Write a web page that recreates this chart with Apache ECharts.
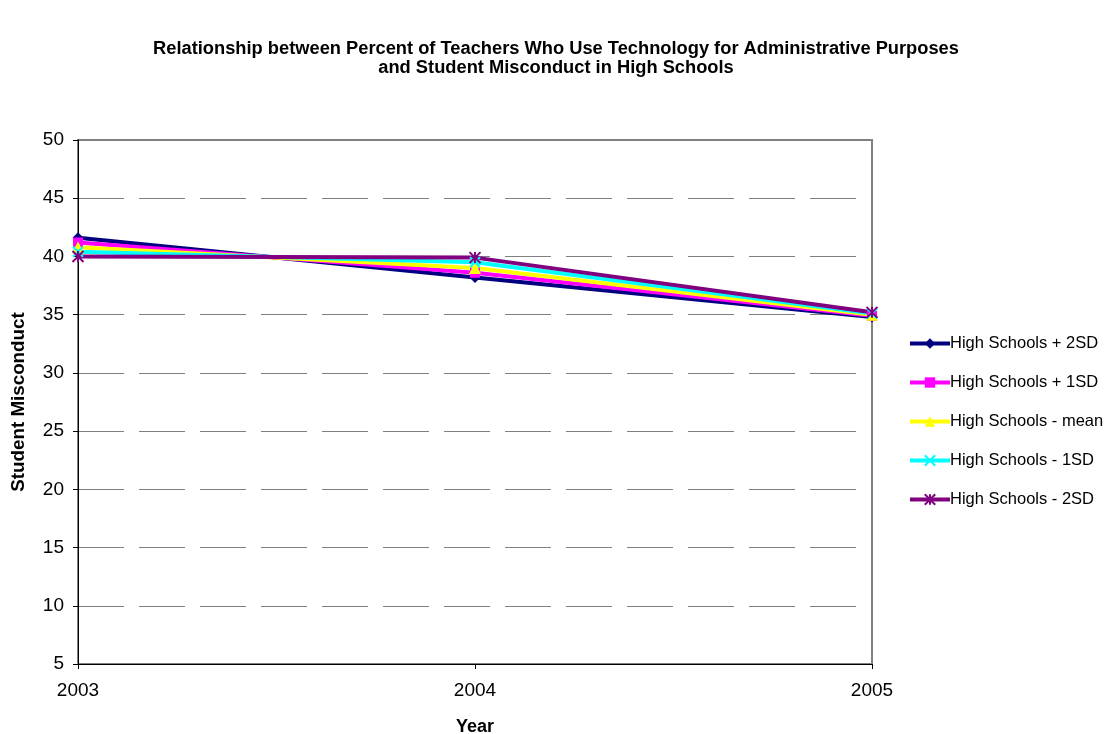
<!DOCTYPE html>
<html>
<head>
<meta charset="utf-8">
<script src="https://cdn.jsdelivr.net/npm/echarts@6/dist/echarts.min.js"></script>
<style>
  html, body { margin: 0; padding: 0; background: #fff; }
  #chart { width: 1112px; height: 734px; }
</style>
</head>
<body>
<div id="chart"></div>
<script>
const years = ['2003', '2004', '2005']
const seriesNames = [
  'High Schools + 2SD',
  'High Schools + 1SD',
  'High Schools - mean',
  'High Schools - 1SD',
  'High Schools - 2SD'
]
const plus2SD = [41.6, 38.2, 34.8]
const plus1SD = [41.2, 38.6, 34.9]
const meanVals = [40.8, 39.0, 35.0]
const minus1SD = [40.4, 39.5, 35.1]
const minus2SD = [40.0, 39.9, 35.2]

const values = [plus2SD, plus1SD, meanVals, minus1SD, minus2SD]
const colors = ['#000080', '#ff00ff', '#ffff00', '#00ffff', '#800080']
const symbols = [
  'diamond',
  'rect',
  'triangle',
  'path://M0,0L10,10M10,0L0,10',
  'path://M0,0L10,10M10,0L0,10M5,0L5,10'
]
const symbolSizes = [11, 10, 12, 10, 11]

const font = 'Liberation Sans, Arial, sans-serif'

const chart = echarts.init(document.getElementById('chart'), null, { renderer: 'canvas' })

chart.setOption({
  animation: false,
  backgroundColor: '#fff',
  textStyle: { fontFamily: font },
  title: {
    text: 'Relationship between Percent of Teachers Who Use Technology for Administrative Purposes\nand Student Misconduct in High Schools',
    left: 'center',
    top: 34,
    textStyle: { fontSize: 18.3, fontWeight: 'bold', color: '#000', lineHeight: 19, fontFamily: font, align: 'center' }
  },
  legend: {
    orient: 'vertical',
    left: 903,
    top: 330,
    itemWidth: 40,
    itemHeight: 13,
    itemGap: 22,
    lineStyle: { width: 4 },
    textStyle: { fontSize: 16.5, color: '#000', fontFamily: font, padding: [0, 0, 0, -5] },
    data: seriesNames
  },
  grid: {
    left: 78,
    top: 140,
    width: 794,
    height: 524,
    show: true,
    borderColor: '#808080',
    borderWidth: 2,
    containLabel: false,
    outerBoundsMode: 'none'
  },
  xAxis: {
    type: 'category',
    data: years,
    boundaryGap: false,
    name: 'Year',
    nameLocation: 'middle',
    nameGap: 54,
    nameTextStyle: { fontSize: 18, fontWeight: 'bold', color: '#000', fontFamily: font },
    axisLine: { lineStyle: { color: '#000', width: 1 } },
    axisTick: { show: true, length: 5, lineStyle: { color: '#000' } },
    axisLabel: { fontSize: 19, color: '#000', margin: 17, fontFamily: font },
    splitLine: { show: false }
  },
  yAxis: {
    type: 'value',
    min: 5,
    max: 50,
    interval: 5,
    name: 'Student Misconduct',
    nameLocation: 'middle',
    nameGap: 50,
    nameTextStyle: { fontSize: 18.8, fontWeight: 'bold', color: '#000', fontFamily: font },
    axisLine: { show: true, lineStyle: { color: '#000', width: 1 } },
    axisTick: { show: true, length: 5, lineStyle: { color: '#000' } },
    axisLabel: { fontSize: 19, color: '#000', margin: 14, fontFamily: font },
    splitLine: { show: true, lineStyle: { color: '#808080', type: [46, 15], width: 1 } }
  },
  series: seriesNames.map((name, i) => ({
    name,
    type: 'line',
    data: values[i],
    symbol: symbols[i],
    symbolSize: symbolSizes[i],
    showAllSymbol: true,
    lineStyle: { color: colors[i], width: 4 },
    itemStyle: {
      color: colors[i],
      borderColor: colors[i],
      borderWidth: i >= 3 ? 2 : 0
    },
    emphasis: { disabled: true }
  }))
})
</script>
</body>
</html>
